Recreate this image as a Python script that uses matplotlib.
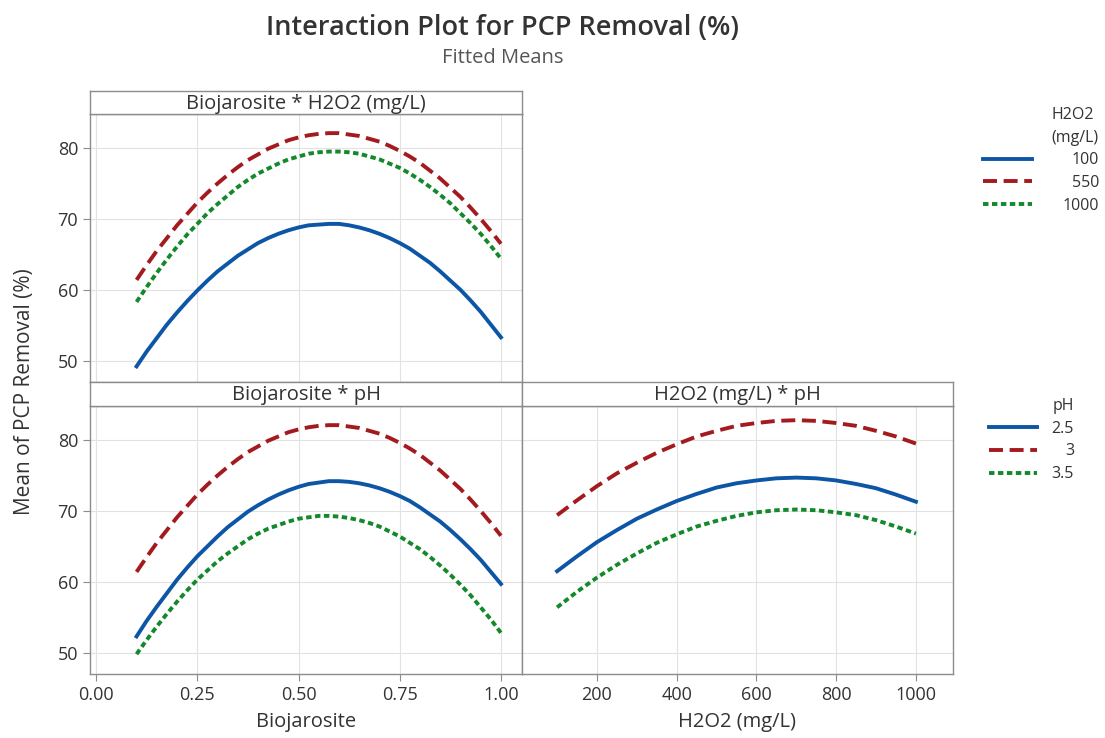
import numpy as np
import matplotlib
matplotlib.use("Agg")
import matplotlib.pyplot as plt

plt.rcParams['font.family'] = ['Open Sans', 'DejaVu Sans']

# fitted means
bio = [0.100, 0.125, 0.150, 0.175, 0.200, 0.225, 0.250, 0.275, 0.300, 0.325,
       0.350, 0.375, 0.400, 0.425, 0.450, 0.475, 0.500, 0.525, 0.550, 0.575,
       0.600, 0.625, 0.650, 0.675, 0.700, 0.725, 0.750, 0.775, 0.800, 0.825,
       0.850, 0.875, 0.900, 0.925, 0.950, 0.975, 1.000]
h2o2 = [100, 150, 200, 250, 300, 350, 400, 450, 500, 550,
        600, 650, 700, 750, 800, 850, 900, 950, 1000]

# Biojarosite * H2O2
bio_h100 = [49.2, 51.3, 53.2, 55.1, 56.8, 58.4, 59.9, 61.3, 62.6, 63.7,
            64.8, 65.7, 66.6, 67.3, 67.9, 68.4, 68.8, 69.1, 69.2, 69.3,
            69.3, 69.1, 68.8, 68.4, 67.9, 67.3, 66.6, 65.8, 64.8, 63.8,
            62.6, 61.3, 60.0, 58.5, 56.9, 55.1, 53.3]
bio_h550 = [61.4, 63.5, 65.5, 67.3, 69.1, 70.7, 72.3, 73.7, 75.0, 76.2,
            77.3, 78.3, 79.1, 79.9, 80.5, 81.1, 81.5, 81.8, 82.0, 82.1,
            82.1, 81.9, 81.7, 81.3, 80.9, 80.3, 79.6, 78.8, 77.9, 76.8,
            75.7, 74.4, 73.1, 71.6, 70.0, 68.3, 66.5]
bio_h1000 = [58.3, 60.4, 62.4, 64.3, 66.1, 67.8, 69.3, 70.8, 72.1, 73.3,
             74.5, 75.5, 76.4, 77.1, 77.8, 78.4, 78.8, 79.2, 79.4, 79.5,
             79.5, 79.4, 79.2, 78.8, 78.4, 77.8, 77.2, 76.4, 75.5, 74.5,
             73.4, 72.2, 70.8, 69.4, 67.9, 66.2, 64.4]

# Biojarosite * pH
bio_p25 = [52.3, 54.5, 56.5, 58.4, 60.3, 62.0, 63.6, 65.0, 66.4, 67.7,
           68.8, 69.9, 70.8, 71.6, 72.3, 72.9, 73.4, 73.8, 74.0, 74.2,
           74.2, 74.1, 73.9, 73.6, 73.2, 72.7, 72.1, 71.4, 70.5, 69.5,
           68.5, 67.3, 66.0, 64.6, 63.1, 61.4, 59.7]
bio_p3 = [61.4, 63.5, 65.5, 67.3, 69.1, 70.7, 72.3, 73.7, 75.0, 76.2,
          77.3, 78.3, 79.1, 79.9, 80.5, 81.1, 81.5, 81.8, 82.0, 82.1,
          82.1, 81.9, 81.7, 81.3, 80.9, 80.3, 79.6, 78.8, 77.9, 76.8,
          75.7, 74.4, 73.1, 71.6, 70.0, 68.3, 66.5]
bio_p35 = [49.8, 51.8, 53.7, 55.5, 57.2, 58.8, 60.3, 61.6, 62.9, 64.0,
           65.0, 66.0, 66.8, 67.5, 68.0, 68.5, 68.9, 69.1, 69.3, 69.3,
           69.2, 69.0, 68.7, 68.3, 67.8, 67.1, 66.4, 65.5, 64.6, 63.5,
           62.3, 61.0, 59.6, 58.1, 56.4, 54.7, 52.8]

# H2O2 * pH
h_p25 = [61.5, 63.6, 65.6, 67.3, 68.9, 70.2, 71.4, 72.4, 73.3, 73.9,
         74.3, 74.6, 74.7, 74.6, 74.3, 73.8, 73.2, 72.3, 71.3]
h_p3 = [69.4, 71.5, 73.5, 75.3, 76.8, 78.2, 79.4, 80.5, 81.3, 82.0,
        82.4, 82.7, 82.8, 82.7, 82.4, 82.0, 81.3, 80.5, 79.5]
h_p35 = [56.4, 58.6, 60.6, 62.4, 64.0, 65.5, 66.7, 67.8, 68.6, 69.3,
         69.8, 70.1, 70.2, 70.1, 69.8, 69.4, 68.7, 67.8, 66.8]

h2o2_levels = ['100', '550', '1000']
ph_levels = ['2.5', '3', '3.5']

colors = ['#0d56a6', '#a31b1f', '#13892b']
styles = [dict(linestyle='-'), dict(dashes=(3.6, 1.7)), dict(dashes=(1.4, 0.9))]
LW = 2.8
EDGE = '#8c8c8c'
TXT = '#333333'

W, H = 1105, 738
fig = plt.figure(figsize=(W / 100, H / 100), dpi=100)


def box(x0, y0, x1, y1):
    return [x0 / W, 1 - y1 / H, (x1 - x0) / W, (y1 - y0) / H]


def make_panel(rect, strip_rect, title):
    ax = fig.add_axes(rect)
    for s in ax.spines.values():
        s.set_color(EDGE)
        s.set_linewidth(1)
    ax.grid(True, color='#e2e2e2', linewidth=0.8)
    ax.set_axisbelow(True)
    ax.set_ylim(47.0, 84.8)
    ax.set_yticks([50, 60, 70, 80])
    ax.tick_params(colors=EDGE, labelcolor=TXT, labelsize=13, length=5, direction='out')
    st = fig.add_axes(strip_rect)
    st.set_xticks([])
    st.set_yticks([])
    for s in st.spines.values():
        s.set_color(EDGE)
        s.set_linewidth(1)
    st.text(0.5, 0.45, title, ha='center', va='center', fontsize=14.5, color=TXT,
            transform=st.transAxes)
    return ax


ax1 = make_panel(box(90, 114, 522, 382), box(90, 91, 522, 114), 'Biojarosite * H2O2 (mg/L)')
ax2 = make_panel(box(90, 406, 522, 674), box(90, 382, 522, 406), 'Biojarosite * pH')
ax3 = make_panel(box(522, 406, 953, 674), box(522, 382, 953, 406), 'H2O2 (mg/L) * pH')

for ax in (ax1, ax2):
    ax.set_xlim(-0.015, 1.052)
    ax.set_xticks([0, 0.25, 0.5, 0.75, 1.0])
    ax.set_xticklabels(['0.00', '0.25', '0.50', '0.75', '1.00'])
ax1.tick_params(axis='x', length=0, labelbottom=False)
ax3.set_xlim(12, 1093)
ax3.set_xticks([200, 400, 600, 800, 1000])
ax3.tick_params(axis='y', length=0, labelleft=False)

h_lines = []
for ys, c, st in zip([bio_h100, bio_h550, bio_h1000], colors, styles):
    ln, = ax1.plot(bio, ys, color=c, lw=LW, solid_joinstyle='round', **st)
    h_lines.append(ln)
p_lines = []
for ys, c, st in zip([bio_p25, bio_p3, bio_p35], colors, styles):
    ln, = ax2.plot(bio, ys, color=c, lw=LW, solid_joinstyle='round', **st)
    p_lines.append(ln)
for ys, c, st in zip([h_p25, h_p3, h_p35], colors, styles):
    ax3.plot(h2o2, ys, color=c, lw=LW, solid_joinstyle='round', **st)

ax2.set_xlabel('Biojarosite', fontsize=14.5, color=TXT, labelpad=6)
ax3.set_xlabel('H2O2 (mg/L)', fontsize=14.5, color=TXT, labelpad=6)
fig.text(25 / W, 1 - 392 / H, 'Mean of PCP Removal (%)', rotation=90, ha='center',
         va='center', fontsize=15, color=TXT)

fig.text(503 / W, 1 - 28 / H, 'Interaction Plot for PCP Removal (%)', ha='center',
         va='center', fontsize=19.5, fontweight='semibold', color=TXT)
fig.text(503 / W, 1 - 58 / H, 'Fitted Means', ha='center', va='center',
         fontsize=14.5, color='#555555')


def add_legend(handles, labels, title, right_px, top_px, textpad):
    leg = fig.legend(handles, labels, title=title, loc='upper right',
                     bbox_to_anchor=(right_px / W, 1 - top_px / H),
                     frameon=False, fontsize=11.5, title_fontsize=11.5,
                     handlelength=3.05, handletextpad=textpad, labelspacing=0.42,
                     borderpad=0, borderaxespad=0, alignment='right')
    leg.get_title().set_color(TXT)
    leg.get_title().set_linespacing(1.55)
    for t in leg.get_texts():
        t.set_color(TXT)
    # right-align the level labels like Minitab does
    fig.canvas.draw()
    renderer = fig.canvas.get_renderer()
    widths = [t.get_window_extent(renderer).width for t in leg.get_texts()]
    for t, w in zip(leg.get_texts(), widths):
        t.set_position((max(widths) - w, 0))
    return leg


add_legend(h_lines, h2o2_levels, 'H2O2\n(mg/L)', 1099, 107, 1.9)
add_legend(p_lines, ph_levels, 'pH', 1074, 398, 0.9)

fig.savefig('out.png', dpi=100, facecolor='white')
